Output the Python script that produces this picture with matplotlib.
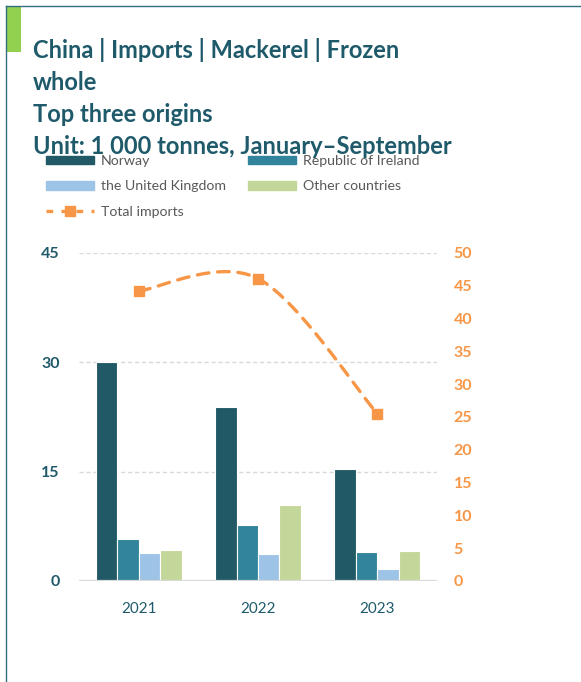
import numpy as np
import matplotlib
matplotlib.use("Agg")
import matplotlib.pyplot as plt
from matplotlib.patches import Rectangle, Patch
from matplotlib.lines import Line2D

# ---- data (1 000 tonnes, January–September) ----
years = ["2021", "2022", "2023"]
norway = [30.0, 23.9, 15.3]
ireland = [5.8, 7.7, 4.0]
uk = [3.8, 3.75, 1.6]
other = [4.3, 10.4, 4.15]
total_imports = [44.2, 46.1, 25.5]

series_names = ["Norway", "Republic of Ireland", "the United Kingdom", "Other countries"]
series_colors = ["#215967", "#31849B", "#9DC3E6", "#C4D79B"]
left_ticks = [0, 15, 30, 45]
right_ticks = [0, 5, 10, 15, 20, 25, 30, 35, 40, 45, 50]

TITLE_COLOR = "#1F5A6B"
ORANGE = "#F79646"
GRID = "#D9D9D9"

plt.rcParams["font.family"] = ["Lato", "DejaVu Sans"]

fig = plt.figure(figsize=(5.81, 6.82), dpi=100)

# frame lines and green accent
fig.add_artist(Line2D([6 / 581, 6 / 581], [0, 1 - 6 / 682], transform=fig.transFigure,
                      color="#2E6E80", lw=1.0))
fig.add_artist(Line2D([6 / 581, 1], [1 - 6 / 682, 1 - 6 / 682], transform=fig.transFigure,
                      color="#2E6E80", lw=1.0))
fig.add_artist(Rectangle((7 / 581, 1 - 52 / 682), 14 / 581, 45 / 682,
                         transform=fig.transFigure, color="#92D050", lw=0))

# title
title_lines = ["China | Imports | Mackerel | Frozen", "whole", "Top three origins",
               "Unit: 1 000 tonnes, January\u2013September"]
for i, line in enumerate(title_lines):
    fig.text(33 / 581, 1 - (50 + 32 * i) / 682, line, fontsize=17, fontweight="bold",
             color=TITLE_COLOR, va="center", ha="left")

ax = fig.add_axes([79 / 581, 1 - 581 / 682, (437 - 79) / 581, (581 - 253) / 682])
ax2 = ax.twinx()

x = np.arange(len(years))
width = 0.18
all_series = [norway, ireland, uk, other]
for k, (vals, col) in enumerate(zip(all_series, series_colors)):
    ax.bar(x + (k - 1.5) * width, vals, width, color=col, edgecolor="white",
           linewidth=0.8, zorder=3, label=series_names[k])

ax.set_xlim(-0.5, 2.5)
ax.set_ylim(0, 45)
ax.set_yticks(left_ticks)
ax.set_xticks(x)
ax.set_xticklabels(years)
for t in [15, 30, 45]:
    ax.axhline(t, color=GRID, lw=1.0, ls=(0, (3, 2)), zorder=1)
ax.axhline(0, color=GRID, lw=1.6, zorder=4)
for s in ax.spines.values():
    s.set_visible(False)
for s in ax2.spines.values():
    s.set_visible(False)
ax.tick_params(axis="y", length=0, pad=14, labelsize=11.5, labelcolor=TITLE_COLOR)
for lab in ax.get_yticklabels():
    lab.set_fontweight("bold")
ax.tick_params(axis="x", length=0, pad=15, labelsize=11, labelcolor=TITLE_COLOR)

ax2.set_ylim(0, 50)
ax2.set_yticks(right_ticks)
ax2.tick_params(axis="y", length=0, pad=12, labelsize=11.5, labelcolor=ORANGE)
for lab in ax2.get_yticklabels():
    lab.set_fontweight("bold")


def smooth_curve(xs, ys, n=40):
    """Catmull-Rom spline through the points (Excel-style smoothed line)."""
    P = np.column_stack([xs, ys]).astype(float)
    P = np.vstack([P[0], P, P[-1]])
    out = []
    for i in range(1, len(P) - 2):
        p0, p1, p2, p3 = P[i - 1], P[i], P[i + 1], P[i + 2]
        m1 = (p2 - p0) / 2
        m2 = (p3 - p1) / 2
        t = np.linspace(0, 1, n)[:, None]
        h00 = 2 * t**3 - 3 * t**2 + 1
        h10 = t**3 - 2 * t**2 + t
        h01 = -2 * t**3 + 3 * t**2
        h11 = t**3 - t**2
        seg = h00 * p1 + h10 * m1 + h01 * p2 + h11 * m2
        out.append(seg if i == 1 else seg[1:])
    c = np.vstack(out)
    return c[:, 0], c[:, 1]


cx, cy = smooth_curve(x, total_imports)
ax2.plot(cx, cy, color=ORANGE, lw=2.4, ls=(0, (3.5, 2.6)), dash_capstyle="round", zorder=5)
ax2.plot(x, total_imports, ls="none", marker="s", ms=7.5, color=ORANGE, zorder=6)

# legend
handles = [
    Patch(color=series_colors[0]),
    Patch(color=series_colors[2]),
    Line2D([], [], color=ORANGE, lw=2.4, ls=(0, (2, 2.5)), marker="s", ms=7.5),
    Patch(color=series_colors[1]),
    Patch(color=series_colors[3]),
]
labels = [series_names[0], series_names[2], "Total imports", series_names[1], series_names[3]]
fig.legend(handles, labels, ncol=2, loc="upper left",
           bbox_to_anchor=(46 / 581, 1 - 155 / 682), frameon=False,
           fontsize=10.2, labelcolor="#595959", handlelength=3.4, handleheight=0.55,
           handletextpad=0.45, columnspacing=1.6, labelspacing=0.95, borderpad=0,
           borderaxespad=0)

fig.savefig("out.png", dpi=100)
